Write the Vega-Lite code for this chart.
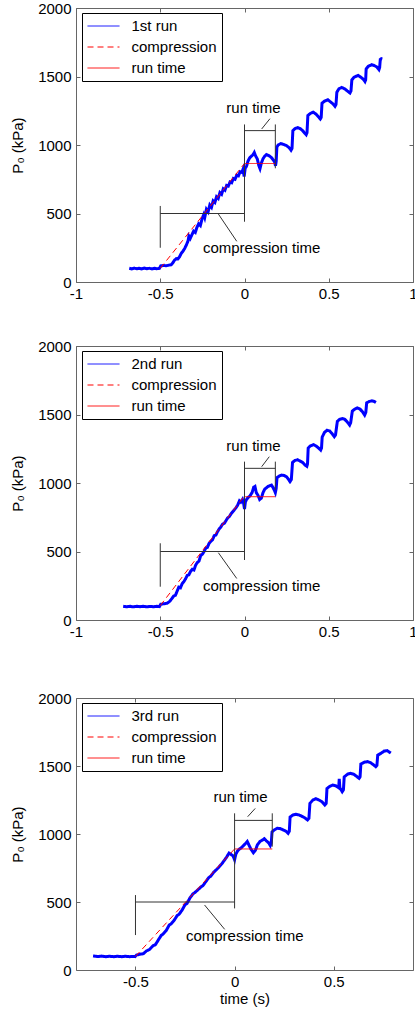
{
  "$schema": "https://vega.github.io/schema/vega-lite/v6.json",
  "padding": {"left": 10, "top": 0, "right": 0, "bottom": 0},
  "spacing": 36,
  "config": {
    "font": "Liberation Sans",
    "view": {"stroke": "#666", "strokeWidth": 1},
    "axis": {"domain": false, "grid": false, "tickColor": "#666", "tickSize": -4, "labelFont": "Liberation Sans", "labelFontSize": 15, "labelColor": "black", "labelPadding": 8, "titleFont": "Liberation Sans", "titleFontSize": 15, "titleFontWeight": "normal", "titleColor": "black"},
    "axisY": {"labelPadding": 9, "titlePadding": 12},
    "legend": {"orient": "none", "legendX": 6, "legendY": 5, "title": null, "fillColor": "white", "strokeColor": "black", "padding": 5, "rowPadding": 5, "labelFont": "Liberation Sans", "labelFontSize": 15, "labelColor": "black", "labelLimit": 0, "labelOffset": 20, "symbolType": "M-2.133,0H2.133", "symbolSize": 225, "symbolOffset": 8.5, "symbolStrokeWidth": 1}
  },
  "resolve": {"scale": {"color": "independent", "strokeDash": "independent"}, "legend": {"color": "independent", "strokeDash": "independent"}},
  "datasets": {
    "run1": [
      {"t":-0.684,"P":100,"s":"1st run"},{"t":-0.67,"P":96,"s":"1st run"},{"t":-0.655,"P":101,"s":"1st run"},{"t":-0.64,"P":97,"s":"1st run"},{"t":-0.625,"P":100,"s":"1st run"},{"t":-0.61,"P":96,"s":"1st run"},{"t":-0.595,"P":101,"s":"1st run"},{"t":-0.58,"P":97,"s":"1st run"},{"t":-0.565,"P":100,"s":"1st run"},{"t":-0.55,"P":96,"s":"1st run"},{"t":-0.535,"P":100,"s":"1st run"},{"t":-0.52,"P":97,"s":"1st run"},{"t":-0.505,"P":99,"s":"1st run"},
      {"t":-0.497,"P":118,"s":"1st run"},{"t":-0.48,"P":121,"s":"1st run"},{"t":-0.465,"P":118,"s":"1st run"},{"t":-0.45,"P":123,"s":"1st run"},{"t":-0.435,"P":126,"s":"1st run"},{"t":-0.425,"P":140,"s":"1st run"},{"t":-0.415,"P":160,"s":"1st run"},{"t":-0.405,"P":170,"s":"1st run"},{"t":-0.395,"P":168,"s":"1st run"},{"t":-0.385,"P":185,"s":"1st run"},{"t":-0.375,"P":210,"s":"1st run"},{"t":-0.365,"P":225,"s":"1st run"},{"t":-0.355,"P":245,"s":"1st run"},{"t":-0.345,"P":270,"s":"1st run"},{"t":-0.335,"P":300,"s":"1st run"},{"t":-0.33,"P":335,"s":"1st run"},{"t":-0.322,"P":318,"s":"1st run"},{"t":-0.312,"P":345,"s":"1st run"},{"t":-0.302,"P":372,"s":"1st run"},{"t":-0.292,"P":362,"s":"1st run"},{"t":-0.282,"P":400,"s":"1st run"},{"t":-0.272,"P":425,"s":"1st run"},{"t":-0.262,"P":412,"s":"1st run"},{"t":-0.252,"P":460,"s":"1st run"},{"t":-0.242,"P":492,"s":"1st run"},{"t":-0.236,"P":470,"s":"1st run"},{"t":-0.226,"P":530,"s":"1st run"},{"t":-0.216,"P":512,"s":"1st run"},{"t":-0.206,"P":562,"s":"1st run"},{"t":-0.196,"P":545,"s":"1st run"},{"t":-0.186,"P":592,"s":"1st run"},{"t":-0.176,"P":580,"s":"1st run"},{"t":-0.166,"P":622,"s":"1st run"},{"t":-0.156,"P":610,"s":"1st run"},{"t":-0.146,"P":652,"s":"1st run"},{"t":-0.136,"P":640,"s":"1st run"},{"t":-0.126,"P":680,"s":"1st run"},{"t":-0.116,"P":670,"s":"1st run"},{"t":-0.106,"P":705,"s":"1st run"},{"t":-0.096,"P":700,"s":"1st run"},{"t":-0.086,"P":730,"s":"1st run"},{"t":-0.076,"P":725,"s":"1st run"},{"t":-0.066,"P":755,"s":"1st run"},{"t":-0.056,"P":750,"s":"1st run"},{"t":-0.046,"P":780,"s":"1st run"},{"t":-0.036,"P":775,"s":"1st run"},{"t":-0.026,"P":805,"s":"1st run"},{"t":-0.016,"P":800,"s":"1st run"},{"t":-0.008,"P":825,"s":"1st run"},{"t":-0.002,"P":770,"s":"1st run"},{"t":0.004,"P":830,"s":"1st run"},{"t":0.012,"P":845,"s":"1st run"},{"t":0.02,"P":880,"s":"1st run"},{"t":0.03,"P":905,"s":"1st run"},{"t":0.04,"P":918,"s":"1st run"},{"t":0.05,"P":928,"s":"1st run"},{"t":0.058,"P":945,"s":"1st run"},{"t":0.066,"P":920,"s":"1st run"},{"t":0.076,"P":898,"s":"1st run"},{"t":0.085,"P":850,"s":"1st run"},{"t":0.092,"P":828,"s":"1st run"},{"t":0.1,"P":868,"s":"1st run"},{"t":0.11,"P":900,"s":"1st run"},{"t":0.12,"P":918,"s":"1st run"},{"t":0.13,"P":930,"s":"1st run"},{"t":0.14,"P":925,"s":"1st run"},{"t":0.15,"P":918,"s":"1st run"},{"t":0.16,"P":908,"s":"1st run"},{"t":0.17,"P":892,"s":"1st run"},{"t":0.178,"P":878,"s":"1st run"},{"t":0.184,"P":848,"s":"1st run"},{"t":0.188,"P":880,"s":"1st run"},
      {"t":0.192,"P":985,"s":"1st run"},{"t":0.2,"P":1000,"s":"1st run"},{"t":0.215,"P":1010,"s":"1st run"},{"t":0.23,"P":1005,"s":"1st run"},{"t":0.25,"P":995,"s":"1st run"},{"t":0.265,"P":980,"s":"1st run"},{"t":0.276,"P":962,"s":"1st run"},{"t":0.282,"P":975,"s":"1st run"},
      {"t":0.287,"P":1105,"s":"1st run"},{"t":0.3,"P":1120,"s":"1st run"},{"t":0.315,"P":1127,"s":"1st run"},{"t":0.33,"P":1120,"s":"1st run"},{"t":0.345,"P":1105,"s":"1st run"},{"t":0.358,"P":1085,"s":"1st run"},{"t":0.366,"P":1075,"s":"1st run"},{"t":0.371,"P":1090,"s":"1st run"},
      {"t":0.376,"P":1215,"s":"1st run"},{"t":0.39,"P":1230,"s":"1st run"},{"t":0.408,"P":1240,"s":"1st run"},{"t":0.425,"P":1225,"s":"1st run"},{"t":0.44,"P":1205,"s":"1st run"},{"t":0.45,"P":1190,"s":"1st run"},{"t":0.455,"P":1200,"s":"1st run"},
      {"t":0.46,"P":1305,"s":"1st run"},{"t":0.475,"P":1320,"s":"1st run"},{"t":0.495,"P":1330,"s":"1st run"},{"t":0.51,"P":1315,"s":"1st run"},{"t":0.525,"P":1300,"s":"1st run"},{"t":0.537,"P":1282,"s":"1st run"},{"t":0.543,"P":1295,"s":"1st run"},
      {"t":0.548,"P":1385,"s":"1st run"},{"t":0.56,"P":1410,"s":"1st run"},{"t":0.577,"P":1420,"s":"1st run"},{"t":0.595,"P":1410,"s":"1st run"},{"t":0.61,"P":1395,"s":"1st run"},{"t":0.626,"P":1380,"s":"1st run"},{"t":0.632,"P":1395,"s":"1st run"},
      {"t":0.637,"P":1475,"s":"1st run"},{"t":0.65,"P":1495,"s":"1st run"},{"t":0.675,"P":1508,"s":"1st run"},{"t":0.69,"P":1495,"s":"1st run"},{"t":0.705,"P":1480,"s":"1st run"},{"t":0.715,"P":1463,"s":"1st run"},{"t":0.719,"P":1475,"s":"1st run"},
      {"t":0.722,"P":1555,"s":"1st run"},{"t":0.735,"P":1575,"s":"1st run"},{"t":0.755,"P":1586,"s":"1st run"},{"t":0.77,"P":1580,"s":"1st run"},{"t":0.785,"P":1570,"s":"1st run"},{"t":0.798,"P":1550,"s":"1st run"},{"t":0.802,"P":1565,"s":"1st run"},
      {"t":0.806,"P":1625,"s":"1st run"},{"t":0.812,"P":1630,"s":"1st run"},{"t":0.818,"P":1628,"s":"1st run"},
      {"t":-0.5,"P":100,"s":"compression"},{"t":0,"P":865,"s":"compression"},
      {"t":0,"P":865,"s":"run time"},{"t":0.183,"P":865,"s":"run time"}
    ],
    "run2": [
      {"t":-0.72,"P":100,"s":"2nd run"},{"t":-0.70,"P":97,"s":"2nd run"},{"t":-0.68,"P":100,"s":"2nd run"},{"t":-0.66,"P":96,"s":"2nd run"},{"t":-0.64,"P":100,"s":"2nd run"},{"t":-0.62,"P":97,"s":"2nd run"},{"t":-0.60,"P":100,"s":"2nd run"},{"t":-0.58,"P":96,"s":"2nd run"},{"t":-0.56,"P":99,"s":"2nd run"},{"t":-0.54,"P":97,"s":"2nd run"},{"t":-0.52,"P":100,"s":"2nd run"},{"t":-0.505,"P":98,"s":"2nd run"},
      {"t":-0.497,"P":115,"s":"2nd run"},{"t":-0.48,"P":118,"s":"2nd run"},{"t":-0.46,"P":122,"s":"2nd run"},{"t":-0.445,"P":135,"s":"2nd run"},{"t":-0.435,"P":150,"s":"2nd run"},{"t":-0.42,"P":175,"s":"2nd run"},{"t":-0.41,"P":180,"s":"2nd run"},{"t":-0.40,"P":210,"s":"2nd run"},{"t":-0.39,"P":240,"s":"2nd run"},{"t":-0.38,"P":235,"s":"2nd run"},{"t":-0.37,"P":265,"s":"2nd run"},{"t":-0.36,"P":280,"s":"2nd run"},{"t":-0.35,"P":300,"s":"2nd run"},{"t":-0.34,"P":325,"s":"2nd run"},{"t":-0.33,"P":330,"s":"2nd run"},{"t":-0.32,"P":355,"s":"2nd run"},{"t":-0.31,"P":370,"s":"2nd run"},{"t":-0.30,"P":365,"s":"2nd run"},{"t":-0.29,"P":400,"s":"2nd run"},{"t":-0.28,"P":420,"s":"2nd run"},{"t":-0.27,"P":430,"s":"2nd run"},{"t":-0.26,"P":470,"s":"2nd run"},{"t":-0.25,"P":480,"s":"2nd run"},{"t":-0.24,"P":500,"s":"2nd run"},{"t":-0.23,"P":525,"s":"2nd run"},{"t":-0.22,"P":530,"s":"2nd run"},{"t":-0.21,"P":560,"s":"2nd run"},{"t":-0.20,"P":575,"s":"2nd run"},{"t":-0.19,"P":585,"s":"2nd run"},{"t":-0.18,"P":615,"s":"2nd run"},{"t":-0.17,"P":620,"s":"2nd run"},{"t":-0.16,"P":645,"s":"2nd run"},{"t":-0.15,"P":665,"s":"2nd run"},{"t":-0.14,"P":680,"s":"2nd run"},{"t":-0.13,"P":700,"s":"2nd run"},{"t":-0.12,"P":705,"s":"2nd run"},{"t":-0.11,"P":725,"s":"2nd run"},{"t":-0.10,"P":745,"s":"2nd run"},{"t":-0.09,"P":755,"s":"2nd run"},{"t":-0.08,"P":775,"s":"2nd run"},{"t":-0.07,"P":790,"s":"2nd run"},{"t":-0.06,"P":805,"s":"2nd run"},{"t":-0.05,"P":820,"s":"2nd run"},{"t":-0.04,"P":840,"s":"2nd run"},{"t":-0.03,"P":870,"s":"2nd run"},{"t":-0.022,"P":860,"s":"2nd run"},{"t":-0.012,"P":880,"s":"2nd run"},{"t":-0.005,"P":850,"s":"2nd run"},{"t":0.0,"P":810,"s":"2nd run"},{"t":0.005,"P":860,"s":"2nd run"},{"t":0.012,"P":880,"s":"2nd run"},{"t":0.022,"P":895,"s":"2nd run"},{"t":0.032,"P":905,"s":"2nd run"},{"t":0.045,"P":930,"s":"2nd run"},{"t":0.055,"P":970,"s":"2nd run"},{"t":0.062,"P":975,"s":"2nd run"},{"t":0.07,"P":930,"s":"2nd run"},{"t":0.08,"P":910,"s":"2nd run"},{"t":0.09,"P":880,"s":"2nd run"},{"t":0.1,"P":890,"s":"2nd run"},{"t":0.11,"P":930,"s":"2nd run"},{"t":0.12,"P":955,"s":"2nd run"},{"t":0.13,"P":965,"s":"2nd run"},{"t":0.14,"P":975,"s":"2nd run"},{"t":0.15,"P":980,"s":"2nd run"},{"t":0.16,"P":985,"s":"2nd run"},{"t":0.17,"P":965,"s":"2nd run"},{"t":0.178,"P":945,"s":"2nd run"},{"t":0.183,"P":930,"s":"2nd run"},{"t":0.188,"P":960,"s":"2nd run"},
      {"t":0.193,"P":1040,"s":"2nd run"},{"t":0.205,"P":1050,"s":"2nd run"},{"t":0.22,"P":1058,"s":"2nd run"},{"t":0.235,"P":1055,"s":"2nd run"},{"t":0.25,"P":1045,"s":"2nd run"},{"t":0.262,"P":1025,"s":"2nd run"},{"t":0.27,"P":1010,"s":"2nd run"},{"t":0.278,"P":1025,"s":"2nd run"},
      {"t":0.285,"P":1150,"s":"2nd run"},{"t":0.30,"P":1165,"s":"2nd run"},{"t":0.315,"P":1170,"s":"2nd run"},{"t":0.33,"P":1160,"s":"2nd run"},{"t":0.345,"P":1150,"s":"2nd run"},{"t":0.36,"P":1130,"s":"2nd run"},{"t":0.37,"P":1122,"s":"2nd run"},{"t":0.374,"P":1140,"s":"2nd run"},
      {"t":0.378,"P":1255,"s":"2nd run"},{"t":0.39,"P":1270,"s":"2nd run"},{"t":0.41,"P":1280,"s":"2nd run"},{"t":0.425,"P":1270,"s":"2nd run"},{"t":0.44,"P":1255,"s":"2nd run"},{"t":0.452,"P":1240,"s":"2nd run"},{"t":0.457,"P":1255,"s":"2nd run"},
      {"t":0.461,"P":1335,"s":"2nd run"},{"t":0.475,"P":1370,"s":"2nd run"},{"t":0.49,"P":1385,"s":"2nd run"},{"t":0.505,"P":1380,"s":"2nd run"},{"t":0.52,"P":1360,"s":"2nd run"},{"t":0.533,"P":1338,"s":"2nd run"},{"t":0.54,"P":1350,"s":"2nd run"},
      {"t":0.551,"P":1450,"s":"2nd run"},{"t":0.565,"P":1465,"s":"2nd run"},{"t":0.58,"P":1470,"s":"2nd run"},{"t":0.595,"P":1465,"s":"2nd run"},{"t":0.61,"P":1445,"s":"2nd run"},{"t":0.624,"P":1423,"s":"2nd run"},{"t":0.63,"P":1440,"s":"2nd run"},
      {"t":0.64,"P":1525,"s":"2nd run"},{"t":0.655,"P":1540,"s":"2nd run"},{"t":0.67,"P":1548,"s":"2nd run"},{"t":0.685,"P":1540,"s":"2nd run"},{"t":0.70,"P":1520,"s":"2nd run"},{"t":0.713,"P":1496,"s":"2nd run"},{"t":0.72,"P":1515,"s":"2nd run"},
      {"t":0.725,"P":1585,"s":"2nd run"},{"t":0.74,"P":1595,"s":"2nd run"},{"t":0.755,"P":1600,"s":"2nd run"},{"t":0.77,"P":1595,"s":"2nd run"},{"t":0.78,"P":1588,"s":"2nd run"},
      {"t":-0.5,"P":105,"s":"compression"},{"t":-0.01,"P":890,"s":"compression"},{"t":0.005,"P":900,"s":"compression"},
      {"t":0.005,"P":900,"s":"run time"},{"t":0.183,"P":900,"s":"run time"}
    ],
    "run3": [
      {"t":-0.714,"P":103,"s":"3rd run"},{"t":-0.69,"P":99,"s":"3rd run"},{"t":-0.67,"P":102,"s":"3rd run"},{"t":-0.65,"P":98,"s":"3rd run"},{"t":-0.63,"P":101,"s":"3rd run"},{"t":-0.61,"P":98,"s":"3rd run"},{"t":-0.59,"P":101,"s":"3rd run"},{"t":-0.57,"P":98,"s":"3rd run"},{"t":-0.55,"P":101,"s":"3rd run"},{"t":-0.53,"P":98,"s":"3rd run"},{"t":-0.51,"P":100,"s":"3rd run"},{"t":-0.502,"P":98,"s":"3rd run"},
      {"t":-0.495,"P":110,"s":"3rd run"},{"t":-0.48,"P":115,"s":"3rd run"},{"t":-0.46,"P":120,"s":"3rd run"},{"t":-0.445,"P":140,"s":"3rd run"},{"t":-0.43,"P":150,"s":"3rd run"},{"t":-0.41,"P":180,"s":"3rd run"},{"t":-0.40,"P":185,"s":"3rd run"},{"t":-0.385,"P":220,"s":"3rd run"},{"t":-0.37,"P":255,"s":"3rd run"},{"t":-0.36,"P":265,"s":"3rd run"},{"t":-0.345,"P":290,"s":"3rd run"},{"t":-0.33,"P":330,"s":"3rd run"},{"t":-0.32,"P":340,"s":"3rd run"},{"t":-0.305,"P":365,"s":"3rd run"},{"t":-0.29,"P":400,"s":"3rd run"},{"t":-0.28,"P":410,"s":"3rd run"},{"t":-0.265,"P":440,"s":"3rd run"},{"t":-0.25,"P":480,"s":"3rd run"},{"t":-0.24,"P":490,"s":"3rd run"},{"t":-0.225,"P":530,"s":"3rd run"},{"t":-0.21,"P":560,"s":"3rd run"},{"t":-0.20,"P":570,"s":"3rd run"},{"t":-0.185,"P":590,"s":"3rd run"},{"t":-0.17,"P":610,"s":"3rd run"},{"t":-0.16,"P":620,"s":"3rd run"},{"t":-0.145,"P":650,"s":"3rd run"},{"t":-0.13,"P":680,"s":"3rd run"},{"t":-0.12,"P":690,"s":"3rd run"},{"t":-0.105,"P":720,"s":"3rd run"},{"t":-0.09,"P":740,"s":"3rd run"},{"t":-0.08,"P":755,"s":"3rd run"},{"t":-0.065,"P":780,"s":"3rd run"},{"t":-0.05,"P":810,"s":"3rd run"},{"t":-0.04,"P":830,"s":"3rd run"},{"t":-0.028,"P":860,"s":"3rd run"},{"t":-0.018,"P":850,"s":"3rd run"},{"t":-0.008,"P":840,"s":"3rd run"},{"t":0.0,"P":810,"s":"3rd run"},{"t":0.006,"P":850,"s":"3rd run"},{"t":0.015,"P":875,"s":"3rd run"},{"t":0.025,"P":890,"s":"3rd run"},{"t":0.035,"P":900,"s":"3rd run"},{"t":0.045,"P":915,"s":"3rd run"},{"t":0.055,"P":930,"s":"3rd run"},{"t":0.064,"P":945,"s":"3rd run"},{"t":0.072,"P":920,"s":"3rd run"},{"t":0.082,"P":890,"s":"3rd run"},{"t":0.095,"P":862,"s":"3rd run"},{"t":0.105,"P":880,"s":"3rd run"},{"t":0.115,"P":920,"s":"3rd run"},{"t":0.128,"P":945,"s":"3rd run"},{"t":0.14,"P":955,"s":"3rd run"},{"t":0.15,"P":965,"s":"3rd run"},{"t":0.16,"P":950,"s":"3rd run"},{"t":0.172,"P":935,"s":"3rd run"},{"t":0.18,"P":915,"s":"3rd run"},{"t":0.185,"P":935,"s":"3rd run"},
      {"t":0.189,"P":1015,"s":"3rd run"},{"t":0.2,"P":1030,"s":"3rd run"},{"t":0.215,"P":1042,"s":"3rd run"},{"t":0.23,"P":1040,"s":"3rd run"},{"t":0.245,"P":1030,"s":"3rd run"},{"t":0.26,"P":1020,"s":"3rd run"},{"t":0.27,"P":1005,"s":"3rd run"},{"t":0.276,"P":1020,"s":"3rd run"},
      {"t":0.28,"P":1125,"s":"3rd run"},{"t":0.295,"P":1140,"s":"3rd run"},{"t":0.31,"P":1145,"s":"3rd run"},{"t":0.325,"P":1140,"s":"3rd run"},{"t":0.34,"P":1130,"s":"3rd run"},{"t":0.355,"P":1118,"s":"3rd run"},{"t":0.368,"P":1103,"s":"3rd run"},{"t":0.375,"P":1115,"s":"3rd run"},
      {"t":0.38,"P":1225,"s":"3rd run"},{"t":0.395,"P":1250,"s":"3rd run"},{"t":0.41,"P":1260,"s":"3rd run"},{"t":0.425,"P":1250,"s":"3rd run"},{"t":0.44,"P":1238,"s":"3rd run"},{"t":0.455,"P":1213,"s":"3rd run"},{"t":0.462,"P":1225,"s":"3rd run"},
      {"t":0.466,"P":1335,"s":"3rd run"},{"t":0.48,"P":1350,"s":"3rd run"},{"t":0.495,"P":1360,"s":"3rd run"},{"t":0.51,"P":1355,"s":"3rd run"},{"t":0.525,"P":1340,"s":"3rd run"},{"t":0.528,"P":1405,"s":"3rd run"},{"t":0.531,"P":1340,"s":"3rd run"},{"t":0.543,"P":1311,"s":"3rd run"},{"t":0.549,"P":1325,"s":"3rd run"},
      {"t":0.553,"P":1420,"s":"3rd run"},{"t":0.57,"P":1440,"s":"3rd run"},{"t":0.585,"P":1446,"s":"3rd run"},{"t":0.60,"P":1440,"s":"3rd run"},{"t":0.615,"P":1425,"s":"3rd run"},{"t":0.628,"P":1409,"s":"3rd run"},{"t":0.633,"P":1420,"s":"3rd run"},
      {"t":0.637,"P":1515,"s":"3rd run"},{"t":0.655,"P":1528,"s":"3rd run"},{"t":0.67,"P":1532,"s":"3rd run"},{"t":0.685,"P":1525,"s":"3rd run"},{"t":0.70,"P":1510,"s":"3rd run"},{"t":0.712,"P":1495,"s":"3rd run"},{"t":0.718,"P":1505,"s":"3rd run"},
      {"t":0.722,"P":1580,"s":"3rd run"},{"t":0.74,"P":1595,"s":"3rd run"},{"t":0.755,"P":1610,"s":"3rd run"},{"t":0.77,"P":1613,"s":"3rd run"},{"t":0.783,"P":1600,"s":"3rd run"},{"t":0.788,"P":1595,"s":"3rd run"},
      {"t":-0.5,"P":100,"s":"compression"},{"t":0,"P":890,"s":"compression"},
      {"t":0,"P":890,"s":"run time"},{"t":0.19,"P":890,"s":"run time"}
    ],
    "ann1": [
      {"t":-0.5,"t2":-0.5,"P":250,"P2":555},{"t":-0.5,"t2":0,"P":500,"P2":500},{"t":0,"t2":0,"P":440,"P2":1150},{"t":0,"t2":0.183,"P":1105,"P2":1105},{"t":0.183,"t2":0.183,"P":1150,"P2":830},{"t":-0.155,"t2":-0.046,"P":496,"P2":297},{"t":0.102,"t2":0.151,"P":1117,"P2":1192}
    ],
    "ann2": [
      {"t":-0.5,"t2":-0.5,"P":243,"P2":560},{"t":-0.5,"t2":0,"P":500,"P2":500},{"t":0,"t2":0,"P":438,"P2":1156},{"t":0,"t2":0.183,"P":1107,"P2":1107},{"t":0.183,"t2":0.183,"P":1156,"P2":950},{"t":-0.155,"t2":-0.046,"P":491,"P2":303},{"t":0.102,"t2":0.147,"P":1119,"P2":1192}
    ],
    "ann3": [
      {"t":-0.5,"t2":-0.5,"P":257,"P2":551},{"t":-0.5,"t2":0,"P":500,"P2":500},{"t":0,"t2":0,"P":453,"P2":1152},{"t":0,"t2":0.19,"P":1100,"P2":1100},{"t":0.19,"t2":0.19,"P":1152,"P2":907},{"t":-0.1515,"t2":-0.05,"P":478,"P2":299},{"t":0.066,"t2":0.104,"P":1127,"P2":1188}
    ],
    "lab1": [{"t":0.102,"P":248,"label":"compression time"},{"t":0.053,"P":1270,"label":"run time"}],
    "lab2": [{"t":0.102,"P":248,"label":"compression time"},{"t":0.053,"P":1270,"label":"run time"}],
    "lab3": [{"t":0.051,"P":250,"label":"compression time"},{"t":0.03,"P":1274,"label":"run time"}]
  },
  "vconcat": [
    {
      "width": 337, "height": 274,
      "resolve": {"axis": {"x": "independent", "y": "independent"}},
      "layer": [
        {
          "data": {"name": "run1"},
          "mark": {"type": "line", "interpolate": "linear"},
          "encoding": {
            "x": {"field": "t", "type": "quantitative", "scale": {"domain": [-1, 1], "nice": false, "zero": false}, "axis": {"orient": "bottom", "title": null, "values": [-1, -0.5, 0, 0.5, 1], "format": "~g", "labelExpr": "replace(datum.label, '\u2212', '-')", "labelFlush": false}},
            "y": {"field": "P", "type": "quantitative", "scale": {"domain": [0, 2000], "nice": false}, "axis": {"orient": "left", "title": "P\u2080 (kPa)", "values": [0, 500, 1000, 1500, 2000], "format": "d"}},
            "color": {"field": "s", "type": "nominal", "scale": {"domain": ["1st run", "compression", "run time"], "range": ["#0000ff", "#ff0000", "#ff0000"]}, "legend": {"encode": {"symbols": {"update": {"strokeDash": {"signal": "datum.value == 'compression' ? [6,4] : [1,0]"}}}}}},
            "strokeDash": {"field": "s", "type": "nominal", "scale": {"domain": ["1st run", "compression", "run time"], "range": [[1, 0], [6, 4], [1, 0]]}, "legend": null},
            "strokeWidth": {"condition": {"test": "datum.s == 'compression' || datum.s == 'run time'", "value": 1}, "value": 3}
          }
        },
        {
          "data": {"name": "ann1"},
          "mark": {"type": "rule", "color": "#333", "strokeWidth": 1},
          "encoding": {
            "x": {"field": "t", "type": "quantitative", "axis": {"orient": "top", "title": null, "labels": false, "values": [-1, -0.5, 0, 0.5, 1], "maxExtent": 0, "minExtent": 0}},
            "x2": {"field": "t2"},
            "y": {"field": "P", "type": "quantitative", "axis": {"orient": "right", "title": null, "labels": false, "values": [0, 500, 1000, 1500, 2000], "maxExtent": 0, "minExtent": 0}},
            "y2": {"field": "P2"}
          }
        },
        {
          "data": {"name": "lab1"},
          "mark": {"type": "text", "fontSize": 15, "font": "Liberation Sans", "color": "black"},
          "encoding": {
            "x": {"field": "t", "type": "quantitative", "axis": null},
            "y": {"field": "P", "type": "quantitative", "axis": null},
            "text": {"field": "label"}
          }
        }
      ]
    },
    {
      "width": 337, "height": 274,
      "resolve": {"axis": {"x": "independent", "y": "independent"}},
      "layer": [
        {
          "data": {"name": "run2"},
          "mark": {"type": "line", "interpolate": "linear"},
          "encoding": {
            "x": {"field": "t", "type": "quantitative", "scale": {"domain": [-1, 1], "nice": false, "zero": false}, "axis": {"orient": "bottom", "title": null, "values": [-1, -0.5, 0, 0.5, 1], "format": "~g", "labelExpr": "replace(datum.label, '\u2212', '-')", "labelFlush": false}},
            "y": {"field": "P", "type": "quantitative", "scale": {"domain": [0, 2000], "nice": false}, "axis": {"orient": "left", "title": "P\u2080 (kPa)", "values": [0, 500, 1000, 1500, 2000], "format": "d"}},
            "color": {"field": "s", "type": "nominal", "scale": {"domain": ["2nd run", "compression", "run time"], "range": ["#0000ff", "#ff0000", "#ff0000"]}, "legend": {"encode": {"symbols": {"update": {"strokeDash": {"signal": "datum.value == 'compression' ? [6,4] : [1,0]"}}}}}},
            "strokeDash": {"field": "s", "type": "nominal", "scale": {"domain": ["2nd run", "compression", "run time"], "range": [[1, 0], [6, 4], [1, 0]]}, "legend": null},
            "strokeWidth": {"condition": {"test": "datum.s == 'compression' || datum.s == 'run time'", "value": 1}, "value": 3}
          }
        },
        {
          "data": {"name": "ann2"},
          "mark": {"type": "rule", "color": "#333", "strokeWidth": 1},
          "encoding": {
            "x": {"field": "t", "type": "quantitative", "axis": {"orient": "top", "title": null, "labels": false, "values": [-1, -0.5, 0, 0.5, 1], "maxExtent": 0, "minExtent": 0}},
            "x2": {"field": "t2"},
            "y": {"field": "P", "type": "quantitative", "axis": {"orient": "right", "title": null, "labels": false, "values": [0, 500, 1000, 1500, 2000], "maxExtent": 0, "minExtent": 0}},
            "y2": {"field": "P2"}
          }
        },
        {
          "data": {"name": "lab2"},
          "mark": {"type": "text", "fontSize": 15, "font": "Liberation Sans", "color": "black"},
          "encoding": {
            "x": {"field": "t", "type": "quantitative", "axis": null},
            "y": {"field": "P", "type": "quantitative", "axis": null},
            "text": {"field": "label"}
          }
        }
      ]
    },
    {
      "width": 337, "height": 272,
      "resolve": {"axis": {"x": "independent", "y": "independent"}},
      "layer": [
        {
          "data": {"name": "run3"},
          "mark": {"type": "line", "interpolate": "linear"},
          "encoding": {
            "x": {"field": "t", "type": "quantitative", "scale": {"domain": [-0.8, 0.9], "nice": false, "zero": false}, "axis": {"orient": "bottom", "title": "time (s)", "titlePadding": 2, "values": [-0.5, 0, 0.5], "format": "~g", "labelExpr": "replace(datum.label, '\u2212', '-')", "labelFlush": false}},
            "y": {"field": "P", "type": "quantitative", "scale": {"domain": [0, 2000], "nice": false}, "axis": {"orient": "left", "title": "P\u2080 (kPa)", "values": [0, 500, 1000, 1500, 2000], "format": "d"}},
            "color": {"field": "s", "type": "nominal", "scale": {"domain": ["3rd run", "compression", "run time"], "range": ["#0000ff", "#ff0000", "#ff0000"]}, "legend": {"encode": {"symbols": {"update": {"strokeDash": {"signal": "datum.value == 'compression' ? [6,4] : [1,0]"}}}}}},
            "strokeDash": {"field": "s", "type": "nominal", "scale": {"domain": ["3rd run", "compression", "run time"], "range": [[1, 0], [6, 4], [1, 0]]}, "legend": null},
            "strokeWidth": {"condition": {"test": "datum.s == 'compression' || datum.s == 'run time'", "value": 1}, "value": 3}
          }
        },
        {
          "data": {"name": "ann3"},
          "mark": {"type": "rule", "color": "#333", "strokeWidth": 1},
          "encoding": {
            "x": {"field": "t", "type": "quantitative", "axis": {"orient": "top", "title": null, "labels": false, "values": [-0.5, 0, 0.5], "maxExtent": 21, "minExtent": 21}},
            "x2": {"field": "t2"},
            "y": {"field": "P", "type": "quantitative", "axis": {"orient": "right", "title": null, "labels": false, "values": [0, 500, 1000, 1500, 2000], "maxExtent": 0, "minExtent": 0}},
            "y2": {"field": "P2"}
          }
        },
        {
          "data": {"name": "lab3"},
          "mark": {"type": "text", "fontSize": 15, "font": "Liberation Sans", "color": "black"},
          "encoding": {
            "x": {"field": "t", "type": "quantitative", "axis": null},
            "y": {"field": "P", "type": "quantitative", "axis": null},
            "text": {"field": "label"}
          }
        }
      ]
    }
  ]
}
